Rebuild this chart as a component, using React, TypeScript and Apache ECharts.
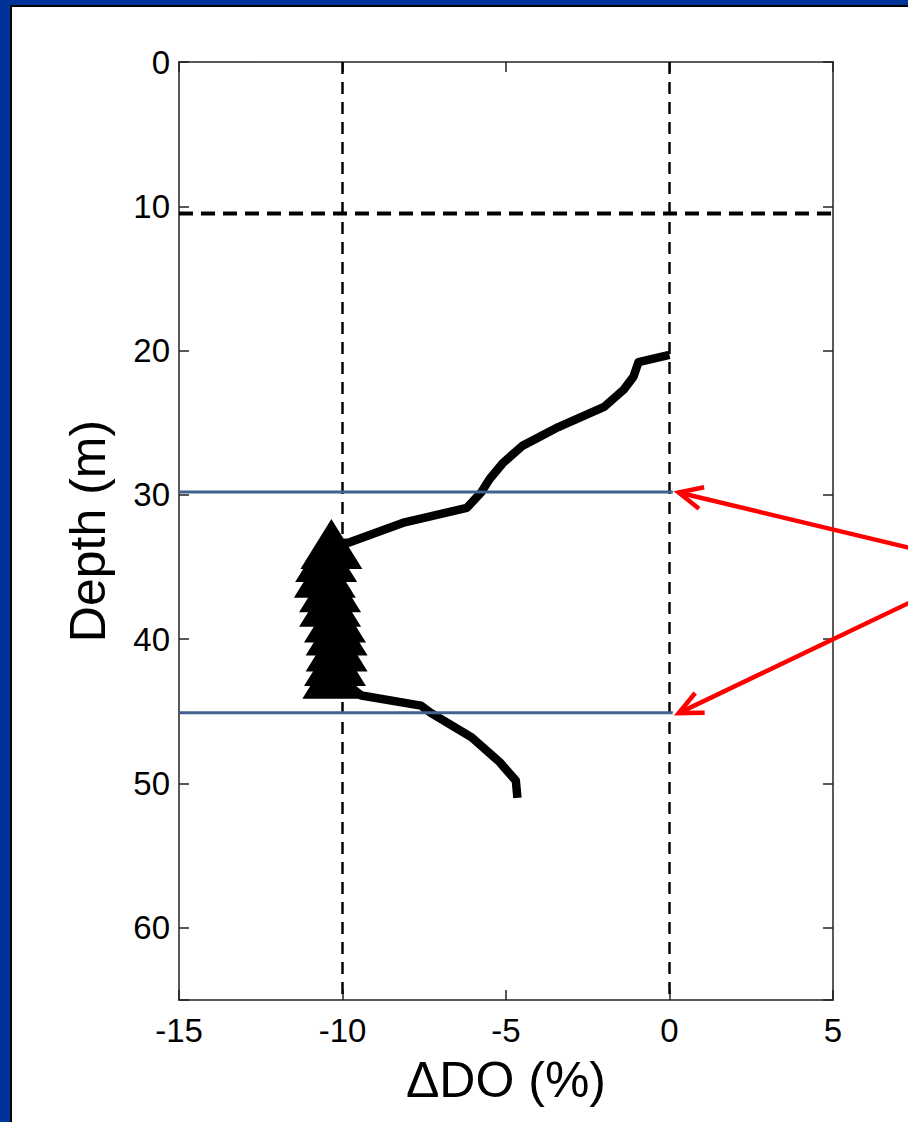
import React, { useEffect, useRef } from "react";
import * as echarts from "echarts";

// Upper part of ΔDO profile (x: ΔDO %, y: depth m)
const upperDO = [0, -0.95, -1.1, -1.4, -2.0, -3.4, -4.5, -5.1, -5.5, -5.75, -6.2, -8.1, -9.8];
const upperDepth = [20.3, 20.8, 21.8, 22.7, 23.9, 25.3, 26.6, 27.8, 28.9, 29.8, 30.9, 31.9, 33.3];
// Triangle-marked segment
const markerDO = [-10.34, -10.5, -10.54, -10.38, -10.38, -10.23, -10.18, -10.18, -10.23, -10.28];
const markerDepth = [33.4, 34.3, 35.4, 36.4, 37.4, 38.5, 39.4, 40.5, 41.5, 42.4];
// Lower part of profile
const lowerDO = [-9.42, -7.6, -7.3, -6.05, -5.2, -4.7, -4.65];
const lowerDepth = [43.9, 44.6, 45.1, 46.8, 48.5, 49.8, 51.0];

// Reference lines
const verticalRefDO = [-10, 0];
const mixedLayerDepth = 10.5;
const layerBoundDepths = [29.8, 45.1];
const layerLineEndDO = 0.1;

// Arrows: [tailX, tailY, headX, headY]
const arrowTails = [[7.4, 33.7], [7.4, 37.4]];
const arrowHeads = [[0.28, 29.83], [0.28, 45.12]];

const xTicks = { min: -15, max: 5, interval: 5 };
const yTicks = { min: 0, max: 65, interval: 10 };

const FONT = "'Liberation Sans', Arial, sans-serif";

export default function App() {
  const ref = useRef<HTMLDivElement>(null);
  useEffect(() => {
    if (!ref.current) return;
    const chart = echarts.init(ref.current, undefined, { renderer: "svg" });

    const profile = [
      ...upperDO.map((x, i) => [x, upperDepth[i]]),
      ...markerDO.map((x, i) => [x, markerDepth[i]]),
      ...lowerDO.map((x, i) => [x, lowerDepth[i]]),
    ];

    const axisLine = { show: true, onZero: false, lineStyle: { color: "#222", width: 1.5 } };
    const axisTick = { show: true, inside: true, length: 10, lineStyle: { color: "#222", width: 1.5 } };

    const series: any[] = [];
    verticalRefDO.forEach((v) => {
      series.push({
        type: "line",
        data: [[v, yTicks.min], [v, yTicks.max]],
        symbol: "none",
        lineStyle: { color: "#000", width: 2.5, type: [12, 8] },
        z: 1,
      });
    });
    series.push({
      type: "line",
      data: [[xTicks.min, mixedLayerDepth], [xTicks.max, mixedLayerDepth]],
      symbol: "none",
      lineStyle: { color: "#000", width: 4, type: [14, 8] },
      z: 1,
    });
    series.push({
      type: "line",
      data: profile,
      symbol: "none",
      lineStyle: { color: "#000", width: 8.5, cap: "butt", join: "round" },
      z: 2,
    });
    series.push({
      type: "scatter",
      data: markerDO.map((x, i) => [x, markerDepth[i]]),
      symbol: "triangle",
      symbolSize: [62, 50],
      itemStyle: { color: "#000", opacity: 1 },
      z: 3,
    });
    layerBoundDepths.forEach((d) => {
      series.push({
        type: "line",
        data: [[xTicks.min, d], [layerLineEndDO, d]],
        symbol: "none",
        lineStyle: { color: "#41628e", width: 3 },
        z: 4,
      });
    });
    series.push({
      type: "custom",
      clip: false,
      z: 5,
      encode: { x: [0, 2], y: [1, 3] },
      data: arrowTails.map((t, i) => [t[0], t[1], arrowHeads[i][0], arrowHeads[i][1]]),
      renderItem: (params: any, api: any) => {
        const tail = api.coord([api.value(0), api.value(1)]);
        const head = api.coord([api.value(2), api.value(3)]);
        const ang = Math.atan2(tail[1] - head[1], tail[0] - head[0]);
        const L = 26;
        const a = (25 * Math.PI) / 180;
        const p1 = [head[0] + L * Math.cos(ang + a), head[1] + L * Math.sin(ang + a)];
        const p2 = [head[0] + L * Math.cos(ang - a), head[1] + L * Math.sin(ang - a)];
        return {
          type: "group",
          children: [
            {
              type: "line",
              shape: { x1: tail[0], y1: tail[1], x2: head[0], y2: head[1] },
              style: { stroke: "#ff0000", lineWidth: 4.5 },
            },
            {
              type: "polyline",
              shape: { points: [p1, head, p2] },
              style: { stroke: "#ff0000", lineWidth: 4.5, fill: null, lineJoin: "miter" },
            },
          ],
        };
      },
    });

    chart.setOption({
      animation: false,
      backgroundColor: "#ffffff",
      textStyle: { fontFamily: FONT },
      grid: { left: 179, right: 75, top: 62, bottom: 122, containLabel: false },
      graphic: [
        { type: "rect", shape: { x: 0, y: 0, width: 10, height: 1122 }, style: { fill: "#003399" }, z: 100 },
        { type: "rect", shape: { x: 10, y: 5, width: 2, height: 1117 }, style: { fill: "#000" }, z: 100 },
        { type: "rect", shape: { x: 0, y: 0, width: 908, height: 5 }, style: { fill: "#003399" }, z: 100 },
        { type: "rect", shape: { x: 10, y: 5, width: 898, height: 2 }, style: { fill: "#000" }, z: 100 },
      ],
      xAxis: [
        {
          type: "value",
          position: "bottom",
          min: xTicks.min,
          max: xTicks.max,
          interval: xTicks.interval,
          axisLine,
          axisTick,
          splitLine: { show: false },
          axisLabel: { color: "#000", fontSize: 33, margin: 14, fontFamily: FONT },
          name: "ΔDO (%)",
          nameLocation: "middle",
          nameGap: 55,
          nameTextStyle: { color: "#000", fontSize: 50, fontFamily: FONT },
        },
        {
          type: "value",
          position: "top",
          min: xTicks.min,
          max: xTicks.max,
          interval: xTicks.interval,
          axisLine,
          axisTick,
          splitLine: { show: false },
          axisLabel: { show: false },
        },
      ],
      yAxis: [
        {
          type: "value",
          position: "left",
          inverse: true,
          min: yTicks.min,
          max: yTicks.max,
          interval: yTicks.interval,
          axisLine,
          axisTick,
          splitLine: { show: false },
          axisLabel: {
            color: "#000",
            fontSize: 33,
            margin: 9,
            fontFamily: FONT,
            formatter: (v: number) => (v % 10 === 0 ? String(v) : ""),
          },
          name: "Depth (m)",
          nameLocation: "middle",
          nameGap: 66,
          nameTextStyle: { color: "#000", fontSize: 50, fontFamily: FONT },
        },
        {
          type: "value",
          position: "right",
          inverse: true,
          min: yTicks.min,
          max: yTicks.max,
          interval: yTicks.interval,
          axisLine,
          axisTick,
          splitLine: { show: false },
          axisLabel: { show: false },
        },
      ],
      series,
    });
    return () => chart.dispose();
  }, []);
  return (
    <div
      ref={ref}
      style={{ position: "absolute", left: 0, top: 0, width: 908, height: 1122 }}
    />
  );
}
